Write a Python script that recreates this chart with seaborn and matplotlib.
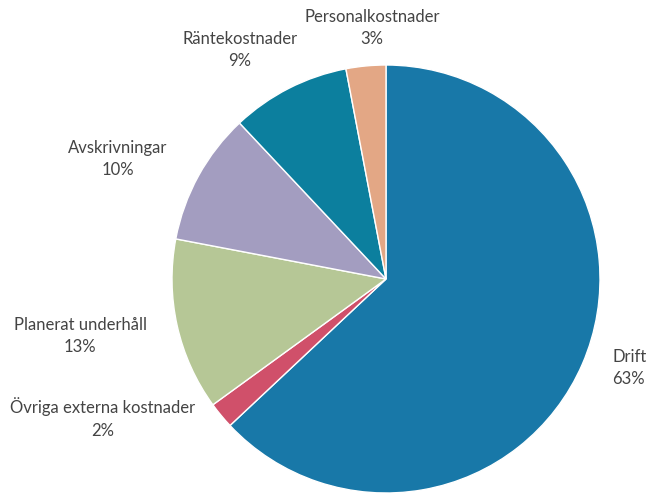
import matplotlib.pyplot as plt
import seaborn as sns

sns.set_theme(style="white")
plt.rcParams['font.family'] = ['Lato', 'DejaVu Sans']

# Kostnadsfördelning
categories = ["Drift", "Övriga externa kostnader", "Planerat underhåll",
              "Avskrivningar", "Räntekostnader", "Personalkostnader"]
shares = [63, 2, 13, 10, 9, 3]
colors = ["#1878a8", "#d0506a", "#b6c796", "#a39dc0", "#0c7f9e", "#e3a785"]

# label anchor positions in pixels (x, centre y of the two lines) and alignment
label_pos = [(612, 368, "left"), (103, 418, "center"), (80, 336, "center"),
             (118, 159, "center"), (240, 50, "center"), (372, 28, "center")]

W, H = 662, 494
fig = plt.figure(figsize=(W / 100, H / 100), dpi=100)
cx, cy, r = 386, 279, 214
ax = fig.add_axes([(cx - r) / W, (H - cy - r) / H, 2 * r / W, 2 * r / H])

ax.pie(shares, colors=colors, startangle=90, counterclock=False,
       wedgeprops=dict(edgecolor="white", linewidth=1))
ax.set_xlim(-1, 1)
ax.set_ylim(-1, 1)
ax.set_aspect("equal")
ax.axis("off")

for name, val, (px, py, ha) in zip(categories, shares, label_pos):
    fig.text(px / W, 1 - py / H, f"{name}\n{val}%", ha=ha, va="center",
             fontsize=12, color="#444444", linespacing=1.5,
             transform=fig.transFigure)

fig.savefig("out.png", dpi=100)
